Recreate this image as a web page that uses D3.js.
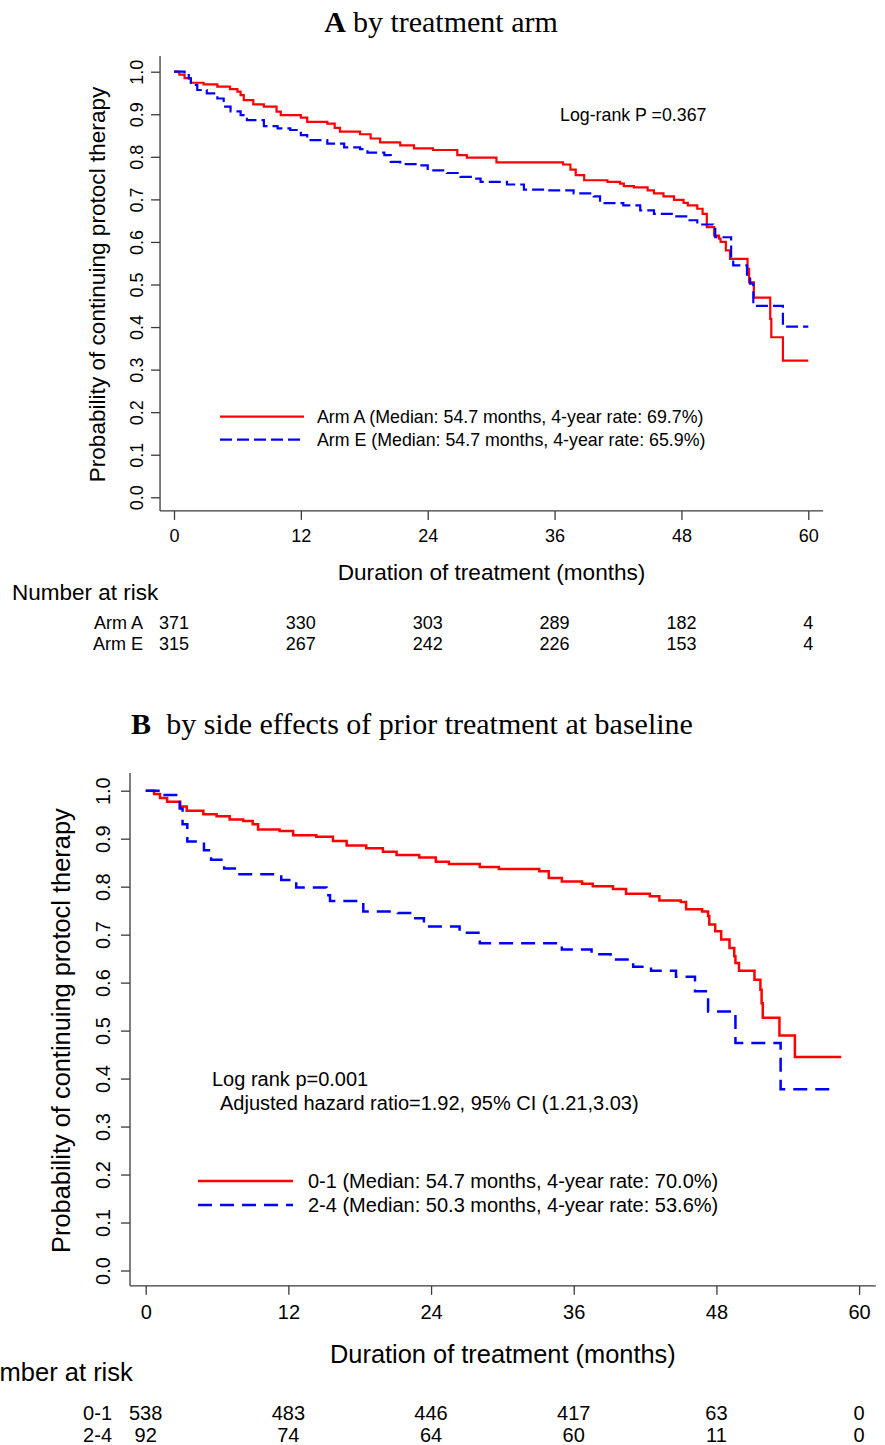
<!DOCTYPE html>
<html>
<meta charset="utf-8">
<style>
  body { margin: 0; background: #fff; }
  svg { width: 885px; height: 1445px; display: block; }
  text { font-family: "Liberation Sans", Arial, sans-serif; fill: #000; }
  .title { font-family: "Liberation Serif", "Times New Roman", serif; }
  .axis path { display: none; }
  .axis line, .domain-line { stroke: #3a3a3a; stroke-width: 1.3; }
</style>
<body>
  <svg></svg>
</body>

<script src="https://d3js.org/d3.v7.min.js"></script>

<script>

  // ---- shared ticks ----
  var months = [0, 12, 24, 36, 48, 60];
  var probTicks = [0, 0.1, 0.2, 0.3, 0.4, 0.5, 0.6, 0.7, 0.8, 0.9, 1.0];

  // ---- panel A : by treatment arm  [month, survival] ----
  var armA = [[0,1.0],[0.5,0.993],[1.0,0.985],[1.6,0.974],[2.8,0.970],[4.1,0.965],[5.3,0.959],[6.0,0.953],
    [6.3,0.945],[6.6,0.933],[7.5,0.923],[8.5,0.918],[9.7,0.906],[10.1,0.898],[12.0,0.892],[12.6,0.882],
    [14.5,0.878],[15.2,0.868],[15.7,0.859],[17.6,0.853],[18.6,0.843],[19.5,0.834],[21.4,0.827],[22.7,0.820],
    [24.5,0.816],[26.8,0.804],[27.7,0.798],[30.5,0.787],[36.8,0.782],[37.5,0.770],[38.0,0.757],[38.8,0.745],
    [41.0,0.741],[42.2,0.737],[42.55,0.731],[43.5,0.728],[44.8,0.721],[45.4,0.714],[46.3,0.707],[47.3,0.699],
    [48.2,0.692],[48.6,0.686],[49.5,0.678],[50.0,0.666],[50.4,0.635],[51.1,0.615],[51.55,0.608],[51.7,0.600],
    [52.2,0.580],[52.6,0.560],[54.25,0.537],[54.4,0.505],[54.85,0.469],[56.4,0.419],[56.5,0.376],[57.6,0.321],
    [60.0,0.321]];
  var armE = [[0,1.0],[1.0,0.995],[1.4,0.984],[1.6,0.969],[2.2,0.957],[3.1,0.949],[4.1,0.937],[4.7,0.918],
    [5.35,0.907],[6.3,0.898],[6.9,0.886],[8.5,0.872],[9.8,0.867],[11.0,0.863],[12.0,0.851],[12.6,0.839],
    [14.5,0.831],[16.1,0.822],[17.6,0.818],[18.3,0.810],[19.9,0.804],[20.5,0.788],[21.4,0.783],[23.3,0.780],
    [24.0,0.768],[25.8,0.762],[27.1,0.753],[28.4,0.749],[29.0,0.741],[31.5,0.735],[33.1,0.723],[35.3,0.721],
    [37.8,0.714],[39.7,0.707],[40.3,0.691],[42.5,0.686],[44.1,0.674],[45.4,0.666],[47.3,0.660],[48.6,0.651],
    [49.5,0.641],[51.0,0.631],[51.2,0.611],[52.7,0.560],[52.9,0.545],[54.2,0.517],[54.5,0.502],[54.8,0.450],
    [57.6,0.401],[60.0,0.401]];
  var riskA = [371, 330, 303, 289, 182, 4];
  var riskE = [315, 267, 242, 226, 153, 4];

  // ---- panel B : by side effects of prior treatment ----
  var grp01 = [[0,1.0],[0.7,0.993],[1.2,0.985],[1.8,0.977],[2.9,0.967],[3.45,0.958],[4.85,0.951],[5.96,0.947],
    [7.06,0.940],[8.2,0.937],[9.0,0.930],[9.45,0.919],[11.26,0.916],[12.4,0.907],[14.35,0.904],[15.75,0.895],
    [16.9,0.886],[18.55,0.880],[19.95,0.873],[21.1,0.866],[23.0,0.861],[24.4,0.852],[25.5,0.847],[28.1,0.841],
    [29.7,0.837],[33.1,0.832],[33.9,0.818],[35.0,0.811],[36.7,0.806],[37.6,0.801],[39.3,0.795],[40.4,0.785],
    [42.4,0.780],[43.2,0.771],[45.0,0.768],[45.45,0.753],[46.8,0.748],[47.3,0.739],[47.4,0.721],[47.9,0.707],
    [48.4,0.690],[49.1,0.672],[49.5,0.655],[49.6,0.641],[49.9,0.625],[51.2,0.606],[51.7,0.585],[51.8,0.557],
    [51.9,0.527],[53.3,0.490],[54.6,0.445],[58.5,0.445]];
  var grp24 = [[0,1.0],[1.3,0.991],[2.86,0.963],[3.1,0.930],[3.5,0.894],[4.9,0.876],[5.5,0.856],[6.6,0.838],
    [7.6,0.826],[11.4,0.814],[12.66,0.798],[15.2,0.782],[15.5,0.770],[18.3,0.748],[21.2,0.745],[22.5,0.734],
    [23.4,0.717],[26.4,0.704],[28.1,0.682],[35.0,0.669],[37.5,0.659],[39.1,0.648],[41.0,0.633],[42.5,0.625],
    [44.6,0.612],[46.2,0.582],[47.3,0.540],[49.6,0.474],[53.4,0.378],[57.9,0.378]];
  var risk01 = [538, 483, 446, 417, 63, 0];
  var risk24 = [92, 74, 64, 60, 11, 0];

  var svg = d3.select("svg");

  function drawPanel(o) {
    var g = svg.append("g");
    var x = d3.scaleLinear().domain([0, 60]).range(o.xRange);
    var y = d3.scaleLinear().domain([0, 1]).range(o.yRange);
    var xLo = -1.32, xHi = 61.4, yLo = -0.032, yHi = 1.037;

    // title
    var t = g.append("text").attr("class", "title")
      .attr("x", o.titleX).attr("y", o.titleY)
      .attr("text-anchor", "middle").style("font-size", o.titleSize + "px");
    t.append("tspan").style("font-weight", "bold").text(o.titleLetter);
    t.append("tspan").attr("dx", o.titleGap).text(o.titleText);

    // axis lines
    g.append("line").attr("class", "domain-line")
      .attr("x1", x(xLo)).attr("x2", x(xLo)).attr("y1", y(yHi)).attr("y2", y(yLo));
    g.append("line").attr("class", "domain-line")
      .attr("x1", x(xLo)).attr("x2", x(xHi)).attr("y1", y(yLo)).attr("y2", y(yLo));

    var yAxis = d3.axisLeft(y).tickValues(probTicks).tickSize(9).tickFormat(d3.format(".1f"));
    var ya = g.append("g").attr("class", "axis")
      .attr("transform", "translate(" + x(xLo) + ",0)").call(yAxis);
    ya.selectAll("text")
      .attr("x", null).attr("dy", null)
      .attr("text-anchor", "middle")
      .attr("transform", "translate(" + (-o.yLabOff) + ",0) rotate(-90)")
      .style("font-size", o.tickSize + "px");

    var xAxis = d3.axisBottom(x).tickValues(months).tickSize(9);
    var xa = g.append("g").attr("class", "axis")
      .attr("transform", "translate(0," + y(yLo) + ")").call(xAxis);
    xa.selectAll("text").attr("y", o.xLabOff).attr("dy", null)
      .style("font-size", o.tickSize + "px");

    // axis titles
    g.append("text")
      .attr("transform", "translate(" + o.yTitleX + "," + y(0.5) + ") rotate(-90)")
      .attr("text-anchor", "middle").style("font-size", o.axisTitleSize + "px")
      .text("Probability of continuing protocl therapy");
    g.append("text")
      .attr("x", (x(xLo) + x(xHi)) / 2).attr("y", o.xTitleY)
      .attr("text-anchor", "middle").style("font-size", o.axisTitleSize + "px")
      .text("Duration of treatment (months)");

    // curves
    var line = d3.line().x(function(d){ return x(d[0]); })
      .y(function(d){ return y(d[1]); }).curve(d3.curveStepAfter);
    o.series.forEach(function(s) {
      g.append("path").datum(s.data).attr("d", line)
        .attr("fill", "none").attr("stroke", s.color)
        .attr("stroke-width", o.lineWidth)
        .attr("stroke-dasharray", s.dash);
    });

    // legend
    o.series.forEach(function(s, i) {
      var ly = o.legY + i * o.legStep;
      g.append("line").attr("x1", o.legX1).attr("x2", o.legX2)
        .attr("y1", ly).attr("y2", ly)
        .attr("stroke", s.color).attr("stroke-width", o.lineWidth)
        .attr("stroke-dasharray", s.dash);
      g.append("text").attr("x", o.legX2 + o.legPad).attr("y", ly).attr("dy", "0.36em")
        .style("font-size", o.legSize + "px").text(s.label);
    });

    // annotation
    o.notes.forEach(function(n) {
      g.append("text").attr("x", n.x).attr("y", n.y).attr("dy", "0.36em")
        .style("font-size", o.legSize + "px").text(n.text);
    });

    // number at risk
    g.append("text").attr("x", o.nrX).attr("y", o.nrY).attr("dy", "0.36em")
      .style("font-size", o.nrSize + "px").text("Number at risk");
    o.series.forEach(function(s, i) {
      var ry = o.riskY + i * o.riskStep;
      g.append("text").attr("x", o.riskLabX).attr("y", ry).attr("dy", "0.36em")
        .attr("text-anchor", "end").style("font-size", o.tickSize + "px").text(s.short);
      g.selectAll(null).data(s.risk).enter().append("text")
        .attr("x", function(d, j){ return x(months[j]); })
        .attr("y", ry).attr("dy", "0.36em")
        .attr("text-anchor", "middle").style("font-size", o.tickSize + "px")
        .text(function(d){ return d; });
    });
  }

  drawPanel({
    xRange: [174, 808.3], yRange: [497.3, 71.7],
    titleX: 441, titleY: 32, titleSize: 30, titleLetter: "A", titleGap: 7, titleText: "by treatment arm",
    tickSize: 18, yLabOff: 17, xLabOff: 31, axisTitleSize: 22.6, yTitleX: 105, xTitleY: 580,
    lineWidth: 2.2,
    series: [
      {data: armA, color: "#ff0000", dash: null, short: "Arm A", risk: riskA,
       label: "Arm A (Median: 54.7 months, 4-year rate: 69.7%)"},
      {data: armE, color: "#0000ff", dash: "12,5", short: "Arm E", risk: riskE,
       label: "Arm E (Median: 54.7 months, 4-year rate: 65.9%)"}
    ],
    legX1: 220, legX2: 304, legPad: 13, legY: 416.7, legStep: 23, legSize: 17.8,
    notes: [{x: 560, y: 115, text: "Log-rank P =0.367"}],
    nrX: 12, nrY: 592, nrSize: 22.5,
    riskLabX: 143, riskY: 623, riskStep: 21
  });

  drawPanel({
    xRange: [145.7, 859.1], yRange: [1270.5, 790.7],
    titleX: 412, titleY: 734, titleSize: 30, titleLetter: "B", titleGap: 15,
    titleText: "by side effects of prior treatment at baseline",
    tickSize: 20, yLabOff: 20, xLabOff: 33, axisTitleSize: 25.4, yTitleX: 70, xTitleY: 1363,
    lineWidth: 2.5,
    series: [
      {data: grp01, color: "#ff0000", dash: null, short: "0-1", risk: risk01,
       label: "0-1 (Median: 54.7 months, 4-year rate: 70.0%)"},
      {data: grp24, color: "#0000ff", dash: "14,8", short: "2-4", risk: risk24,
       label: "2-4 (Median: 50.3 months, 4-year rate: 53.6%)"}
    ],
    legX1: 198, legX2: 293, legPad: 15, legY: 1181, legStep: 24, legSize: 20,
    notes: [{x: 212, y: 1079, text: "Log rank p=0.001"},
            {x: 220, y: 1103, text: "Adjusted hazard ratio=1.92, 95% CI (1.21,3.03)"}],
    nrX: -33, nrY: 1372, nrSize: 25.5,
    riskLabX: 112, riskY: 1413, riskStep: 22
  });

</script>
</html>
